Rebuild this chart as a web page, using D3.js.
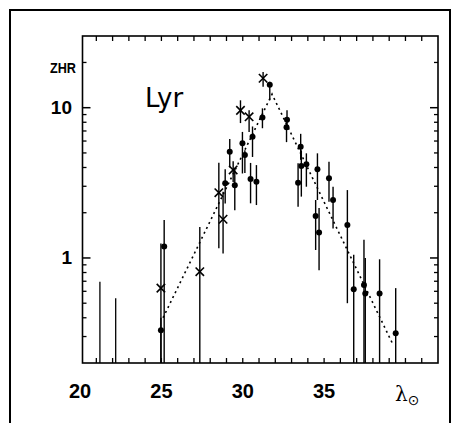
<!DOCTYPE html>
<html>
<head>
<meta charset="utf-8">
<script src="https://cdn.jsdelivr.net/npm/d3@7"></script>
<style>
body { margin: 0; background: #fff; }
text { font-family: "Liberation Sans", Arial, sans-serif; }
</style>
</head>
<body>
<script>
// Crosses (x) with error bars
var crossLam = [24.97, 27.36, 28.53, 28.79, 29.41, 29.86, 30.39, 31.25];
var crossZhr = [0.63, 0.81, 2.72, 1.81, 3.85, 9.6, 8.7, 15.7];
var crossLo = [0.2, 0.2, 1.16, 1.07, 3.2, 7.9, 6.9, 13.8];
var crossHi = [1.25, 1.61, 4.3, 2.76, 4.4, 11.2, 9.6, 17.3];

// Dots with error bars
var dotLam = [24.97, 25.17, 28.92, 29.2, 29.51, 29.98, 30.13, 30.48, 30.6, 30.84, 31.21, 31.66,
	32.72, 32.69, 33.56, 33.4, 33.6, 33.91, 34.59, 34.48, 34.69, 35.3, 35.55, 36.43,
	36.82, 37.45, 37.53, 38.41, 39.4];
var dotZhr = [0.33, 1.19, 3.14, 5.1, 3.05, 5.8, 4.84, 3.35, 6.4, 3.21, 8.6, 14.2,
	8.3, 7.4, 5.5, 3.17, 4.1, 4.2, 3.89, 1.9, 1.48, 3.39, 2.43, 1.66,
	0.62, 0.66, 0.58, 0.58, 0.315];
var dotLo = [0.2, 0.2, 2.3, 4.0, 2.08, 3.65, 3.67, 2.31, 4.7, 2.25, 7.3, 11.2,
	7.6, 5.9, 4.5, 2.19, 2.56, 2.98, 2.43, 1.13, 0.83, 2.37, 1.57, 0.5,
	0.2, 0.2, 0.2, 0.2, 0.2];
var dotHi = [0.4, 1.79, 3.9, 6.2, 3.96, 6.9, 5.2, 4.29, 7.5, 4.15, 9.9, 14.9,
	9.6, 8.0, 6.7, 4.27, 5.2, 4.97, 4.97, 2.43, 2.15, 4.37, 2.98, 2.83,
	1.05, 1.32, 1.0, 0.98, 0.63];

// Upper limits (bars only)
var limitLam = [21.22, 22.19];
var limitHi = [0.695, 0.54];

// Dotted fit line
var lineLam = [25.1, 31.8, 39.2];
var lineZhr = [0.40, 12.3, 0.27];

var xTicks = [20, 25, 30, 35];
var yTicks = [1, 10];
var yMinor = [0.3, 0.4, 0.5, 0.6, 0.7, 0.8, 0.9, 2, 3, 4, 5, 6, 7, 8, 9, 20];

var W = 452, H = 423;
var svg = d3.select("body").append("svg").attr("width", W).attr("height", H);

// outer frame
svg.append("rect").attr("x", 10).attr("y", 10).attr("width", 440).attr("height", 430).
	attr("fill", "none").attr("stroke", "#000").attr("stroke-width", 2);

var x = d3.scaleLinear().domain([20.15, 42]).range([82.5, 438]);
var y = d3.scaleLog().domain([0.2, 30]).range([363, 36]);

var g = svg.append("g");

// plot frame
g.append("rect").attr("x", 82.5).attr("y", 36).attr("width", 438 - 82.5).attr("height", 363 - 36).
	attr("fill", "none").attr("stroke", "#000").attr("stroke-width", 1.6);

// inward ticks
var unitTicks = d3.range(21, 42);
g.selectAll(".tb").data(unitTicks).enter().append("line").
	attr("x1", function (d) {return x(d);}).attr("x2", function (d) {return x(d);}).
	attr("y1", 363).attr("y2", 358).attr("stroke", "#000").attr("stroke-width", 1.3);
g.selectAll(".tt").data(unitTicks).enter().append("line").
	attr("x1", function (d) {return x(d);}).attr("x2", function (d) {return x(d);}).
	attr("y1", 36).attr("y2", 41).attr("stroke", "#000").attr("stroke-width", 1.3);
[82.5, 438].forEach(function (edge) {
	var dir = edge < 200 ? 1 : -1;
	g.selectAll(null).data(yMinor).enter().append("line").
		attr("x1", edge).attr("x2", edge + dir * 4).
		attr("y1", function (d) {return y(d);}).attr("y2", function (d) {return y(d);}).
		attr("stroke", "#000").attr("stroke-width", 1.3);
	g.selectAll(null).data(yTicks).enter().append("line").
		attr("x1", edge).attr("x2", edge + dir * 8).
		attr("y1", function (d) {return y(d);}).attr("y2", function (d) {return y(d);}).
		attr("stroke", "#000").attr("stroke-width", 1.5);
});

// tick labels
svg.selectAll(".xl").data(xTicks).enter().append("text").
	attr("x", function (d) {return x(d);}).attr("y", 398).
	attr("text-anchor", "middle").style("font-size", "20px").style("font-weight", "bold").
	text(function (d) {return d;});
svg.selectAll(".yl").data(yTicks).enter().append("text").
	attr("x", 72).attr("y", function (d) {return y(d) + 6;}).
	attr("text-anchor", "end").style("font-size", "19px").style("font-weight", "bold").
	text(function (d) {return d;});

svg.append("text").attr("x", 50).attr("y", 73).attr("textLength", 26).attr("lengthAdjust", "spacingAndGlyphs").
	style("font-size", "15px").style("font-weight", "bold").text("ZHR");
svg.append("text").attr("x", 145).attr("y", 107).style("font-family", "DejaVu Sans").style("font-size", "26px").text("Lyr");

var lam = svg.append("text").attr("x", 395).attr("y", 401).style("font-family", "DejaVu Serif");
lam.append("tspan").style("font-size", "20px").text("λ");
lam.append("tspan").attr("dy", 4).style("font-size", "14px").style("font-family", "DejaVu Sans").text("⊙");

// dotted fit line
var line = d3.line().x(function (d) {return x(d[0]);}).y(function (d) {return y(d[1]);});
g.append("path").datum(d3.zip(lineLam, lineZhr)).attr("d", line).
	attr("fill", "none").attr("stroke", "#000").attr("stroke-width", 1.6).attr("stroke-dasharray", "2,3.5");

// upper-limit bars
g.selectAll(".lim").data(d3.zip(limitLam, limitHi)).enter().append("line").
	attr("x1", function (d) {return x(d[0]);}).attr("x2", function (d) {return x(d[0]);}).
	attr("y1", function (d) {return y(d[1]);}).attr("y2", 363).
	attr("stroke", "#000").attr("stroke-width", 1.3);

function bars(lams, los, his) {
	g.selectAll(null).data(d3.zip(lams, los, his)).enter().append("line").
		attr("x1", function (d) {return x(d[0]);}).attr("x2", function (d) {return x(d[0]);}).
		attr("y1", function (d) {return y(d[2]);}).attr("y2", function (d) {return y(Math.max(d[1], 0.2));}).
		attr("stroke", "#000").attr("stroke-width", 1.4);
}
bars(crossLam, crossLo, crossHi);
bars(dotLam, dotLo, dotHi);

// dots
g.selectAll(".dot").data(d3.zip(dotLam, dotZhr)).enter().append("circle").
	attr("cx", function (d) {return x(d[0]);}).attr("cy", function (d) {return y(d[1]);}).
	attr("r", 3).attr("fill", "#000");

// crosses
var cs = 4.2;
var cr = g.selectAll(".cross").data(d3.zip(crossLam, crossZhr)).enter().append("g").
	attr("transform", function (d) {return "translate(" + x(d[0]) + "," + y(d[1]) + ")";});
cr.append("line").attr("x1", -cs).attr("y1", -cs).attr("x2", cs).attr("y2", cs).attr("stroke", "#000").attr("stroke-width", 1.6);
cr.append("line").attr("x1", -cs).attr("y1", cs).attr("x2", cs).attr("y2", -cs).attr("stroke", "#000").attr("stroke-width", 1.6);
</script>
</body>
</html>
